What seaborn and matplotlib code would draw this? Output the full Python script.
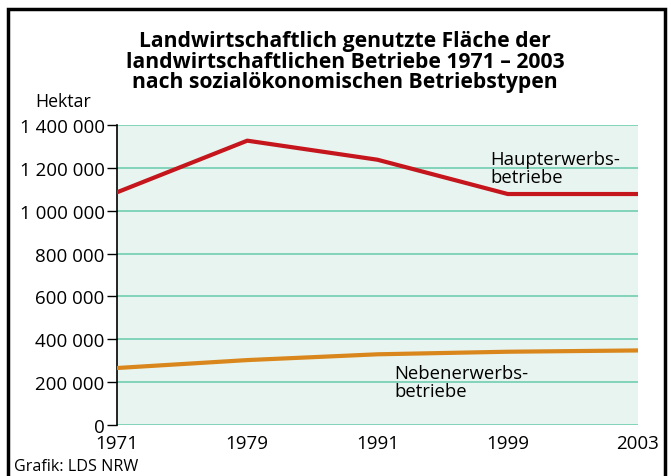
import matplotlib
matplotlib.use("Agg")
import matplotlib.pyplot as plt
import matplotlib.ticker as mticker
from matplotlib.patches import Rectangle
import pandas as pd
import seaborn as sns

# Daten
jahre = ["1971", "1979", "1991", "1999", "2003"]
haupterwerb = [1086000, 1327000, 1238000, 1078000, 1078000]
nebenerwerb = [266000, 303000, 330000, 342000, 348000]
y_ticks = [0, 200000, 400000, 600000, 800000, 1000000, 1200000, 1400000]

df = pd.DataFrame({
    "Jahr": jahre * 2,
    "Hektar": haupterwerb + nebenerwerb,
    "Typ": ["Haupterwerbsbetriebe"] * len(jahre) + ["Nebenerwerbsbetriebe"] * len(jahre),
})

sns.set_style("white")
plt.rcParams["font.family"] = ["Open Sans", "DejaVu Sans"]
plt.rcParams["text.color"] = "black"
plt.rcParams["xtick.color"] = "black"
plt.rcParams["ytick.color"] = "black"

fig = plt.figure(figsize=(6.71, 4.77), dpi=100)
ax = fig.add_axes([0.1744, 0.1069, 0.7764, 0.6289])
ax.set_facecolor("#e8f4ef")

sns.lineplot(data=df, x="Jahr", y="Hektar", hue="Typ",
             palette={"Haupterwerbsbetriebe": "#c4161c", "Nebenerwerbsbetriebe": "#d9861c"},
             linewidth=3, legend=False, ax=ax, zorder=3)

ax.set_xlim(0, len(jahre) - 1)
ax.set_ylim(0, 1400000)
ax.set_yticks(y_ticks)
ax.yaxis.set_major_formatter(mticker.FuncFormatter(lambda v, p: f"{int(v):,}".replace(",", " ")))
ax.grid(axis="y", color="#66c9ac", linewidth=1.1)
ax.grid(axis="x", visible=False)
ax.set_axisbelow(True)

for s in ["top", "right", "bottom"]:
    ax.spines[s].set_visible(False)
ax.spines["left"].set_color("black")
ax.spines["left"].set_linewidth(1.2)

ax.tick_params(axis="y", which="major", left=True, length=7, width=1, color="black",
               labelcolor="black", labelsize=13.5, pad=2)
ax.tick_params(axis="x", bottom=False, labelcolor="black", labelsize=13.5, pad=3)
ax.set_xlabel("")
ax.set_ylabel("")

ax.text(0.716, 0.857, "Haupterwerbs-\nbetriebe", transform=ax.transAxes,
        fontsize=13.3, va="center", ha="left", linespacing=1.02, color="black")
ax.text(0.532, 0.143, "Nebenerwerbs-\nbetriebe", transform=ax.transAxes,
        fontsize=13.3, va="center", ha="left", linespacing=1.02, color="black")

fig.text(0.514, 0.870, "Landwirtschaftlich genutzte Fläche der\n"
         "landwirtschaftlichen Betriebe 1971 – 2003\n"
         "nach sozialökonomischen Betriebstypen",
         ha="center", va="center", fontsize=15.2, fontweight="bold", linespacing=0.98,
         color="black")
fig.text(0.052, 0.786, "Hektar", fontsize=12.8, ha="left", va="center", color="black")
fig.text(0.021, 0.021, "Grafik: LDS NRW", fontsize=11.6, ha="left", va="center", color="black")

# Rahmen
fig.add_artist(Rectangle((0.012, -0.05), 0.979, 1.03, transform=fig.transFigure,
                         fill=False, edgecolor="black", linewidth=2.5))

fig.savefig("out.png", dpi=100)
